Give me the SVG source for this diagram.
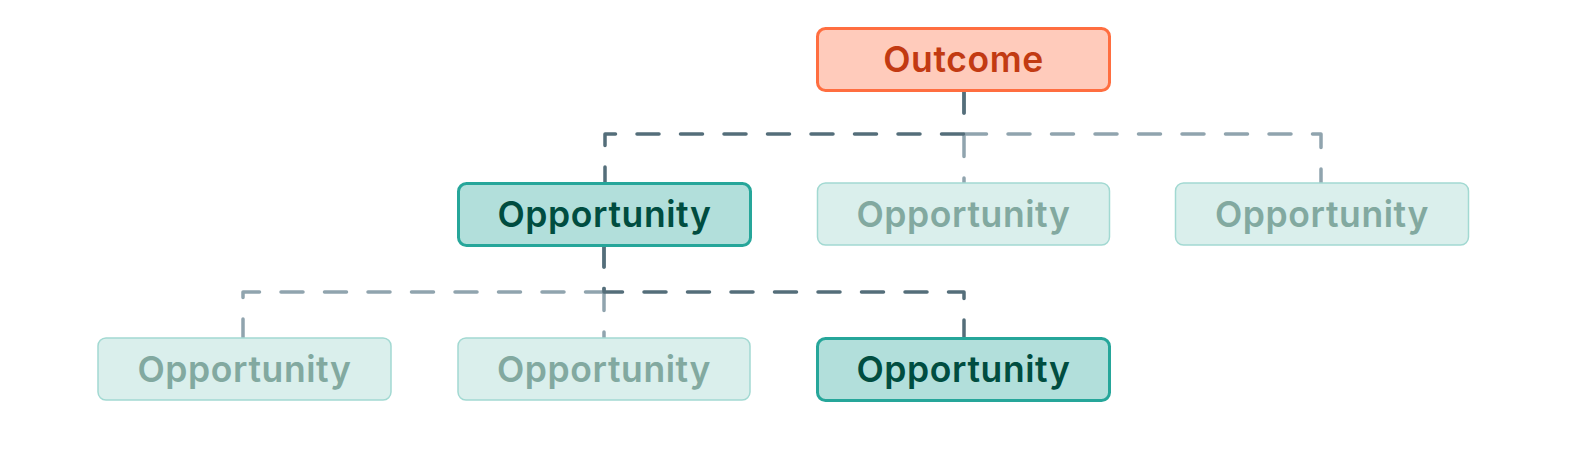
<svg xmlns="http://www.w3.org/2000/svg" width="1592" height="450" viewBox="0 0 1592 450">
<style>
.lbl{font-family:Inter,"Noto Sans",sans-serif;font-weight:600;font-size:35.5px;letter-spacing:0.6px;text-anchor:middle;dominant-baseline:central}
.out rect{fill:#FFCBBB;stroke:#FF6E40;stroke-width:3}
.out text{fill:#C23A12}
.hi rect{fill:#B2DFDB;stroke:#26A69A;stroke-width:3}
.hi text{fill:#004D40}
.lo rect{fill:#DAEFEC;stroke:#A2D9D2;stroke-width:1.5}
.lo text{fill:#82A9A0}
.c{fill:none;stroke-width:3.5;stroke-linecap:round;stroke-linejoin:round;stroke-dasharray:22 21.5}
.cl{stroke:#90A4AE}
.cd{stroke:#546E7A}
</style>
<rect width="1592" height="450" fill="#FFFFFF"/>
<g id="connectors">
<path class="c cl" d="M964 91V134H1321V183"/>
<path class="c cl" d="M964 91V183"/>
<path class="c cl" d="M604 245V292H243V338"/>
<path class="c cl" d="M604 245V338"/>
<path class="c cd" d="M964 91V134H605V183"/>
<path class="c cd" d="M604 245V292H964V338"/>
</g>
<g id="outcome" class="out"><rect x="817.5" y="28.5" width="292" height="62" rx="8"/><text class="lbl" x="963.5" y="59">Outcome</text></g>
<g id="opp1" class="hi"><rect x="458.5" y="183.5" width="292" height="62" rx="8"/><text class="lbl" x="604.5" y="214">Opportunity</text></g>
<g id="opp2" class="lo"><rect x="817.5" y="183" width="292" height="62" rx="8"/><text class="lbl" x="963.5" y="214">Opportunity</text></g>
<g id="opp3" class="lo"><rect x="1175.5" y="183" width="293" height="62" rx="8"/><text class="lbl" x="1322" y="214">Opportunity</text></g>
<g id="opp4" class="lo"><rect x="98" y="338" width="293" height="62" rx="8"/><text class="lbl" x="244.5" y="369">Opportunity</text></g>
<g id="opp5" class="lo"><rect x="458" y="338" width="292" height="62" rx="8"/><text class="lbl" x="604" y="369">Opportunity</text></g>
<g id="opp6" class="hi"><rect x="817.5" y="338.5" width="292" height="62" rx="8"/><text class="lbl" x="963.5" y="369">Opportunity</text></g>
</svg>
